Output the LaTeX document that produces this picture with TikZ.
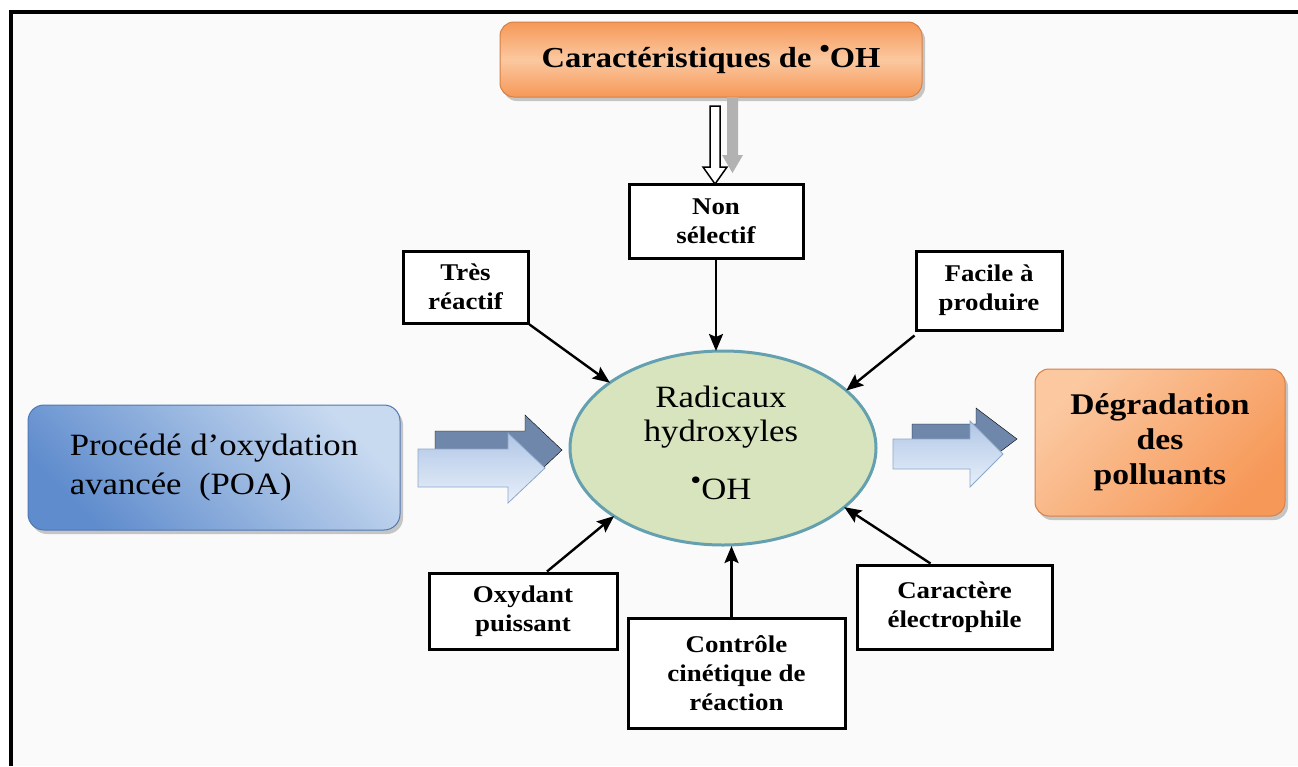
\documentclass[tikz,border=0pt]{standalone}
\usepackage{graphicx}
\usepackage{fontspec}
\setmainfont{Liberation Serif}[FakeStretch=1.12]
\usetikzlibrary{arrows.meta,shadows,calc,shapes.geometric}
\newcommand{\radbul}{\raisebox{0.32em}{\scalebox{0.9}{\textbullet}}}
\definecolor{bgc}{RGB}{250,250,250}
\definecolor{orA}{RGB}{246,152,88}
\definecolor{orB}{RGB}{251,200,160}
\definecolor{orE}{RGB}{214,128,70}
\definecolor{blA}{RGB}{95,140,205}
\definecolor{blB}{RGB}{200,218,240}
\definecolor{blE}{RGB}{80,120,180}
\definecolor{elF}{RGB}{215,228,189}
\definecolor{elE}{RGB}{100,160,175}
\definecolor{arD}{RGB}{111,135,170}
\definecolor{arL}{RGB}{176,198,230}
\definecolor{arL2}{RGB}{232,240,250}
\definecolor{arE}{RGB}{140,168,200}
\begin{document}
\begin{tikzpicture}[x=1pt,y=-1pt,
  box/.style={draw=black, line width=3pt, fill=white, align=center, inner sep=0pt,
    font=\fontsize{24}{29}\selectfont\bfseries},
  conn/.style={line width=2.4pt, -{Stealth[length=17pt,width=14pt,inset=3pt]}},
  softshadow/.style={drop shadow={shadow xshift=3pt, shadow yshift=-4pt, opacity=0.3, fill=black!70}},
  orbox/.style={rounded corners=14pt, draw=orE, line width=1pt, softshadow, align=center, inner sep=0pt},
  blbox/.style={rounded corners=16pt, draw=blE, line width=1pt, softshadow, inner sep=0pt},
  darkarrow/.style={fill=arD},
  lightarrow/.style={draw=arE, line width=0.8pt, top color=arL, bottom color=arL2},
]
\useasboundingbox (0,0) rectangle (1298,766);
\fill[white] (0,0) rectangle (1298,766);
\fill[bgc] (11,12) rectangle (1298,766);
\draw[line width=3.5pt] (11,766) -- (11,12) -- (1298,12);

% top box
\node[orbox, top color=orA, bottom color=orA, middle color=orB, minimum width=422pt, minimum height=75pt,
  font=\fontsize{29}{34}\selectfont\bfseries] (car) at (711,59.5) {Caractéristiques de \radbul OH};

% block arrows under top box
\draw[fill=gray!60, draw=none] (727,97) -- (738,97) -- (738,155) -- (743,155) -- (732.5,173) -- (722,155) -- (727,155) -- cycle;
\draw[fill=white, draw=black, line width=1.5pt] (710,106) -- (720,106) -- (720,167) -- (727,167) -- (715,184) -- (703,167) -- (710,167) -- cycle;

% small boxes
\node[box, minimum width=174pt, minimum height=74pt] (non) at (716,221) {Non\\sélectif};
\node[box, minimum width=125pt, minimum height=72pt] (tres) at (465.5,287) {Très\\réactif};
\node[box, minimum width=146pt, minimum height=79pt] (fac) at (989,290.5) {Facile à\\produire};
\node[box, minimum width=188pt, minimum height=76pt] (oxy) at (523,611) {Oxydant\\puissant};
\node[box, minimum width=195pt, minimum height=84pt] (ele) at (954.5,607) {Caractère\\électrophile};
\node[box, minimum width=217pt, minimum height=110pt] (ctl) at (736.5,673) {Contrôle\\cinétique de\\réaction};

% central ellipse
\node[ellipse, fill=elF, draw=elE, line width=3pt, inner sep=0pt, outer sep=0pt,
  minimum width=306pt, minimum height=194pt] (rad) at (723,448) {};
\node[align=center, font=\fontsize{31}{34}\selectfont] (radt) at (721,443) {Radicaux\\hydroxyles\\[24pt]\radbul OH};

% POA box
\node[blbox, shading=axis, top color=blA, bottom color=blB, shading angle=135, minimum width=372pt, minimum height=125pt,
  align=left, font=\fontsize{31}{39}\selectfont] (poa) at (214,467.5) {Procédé d’oxydation\\avancée \ (POA)};

% Degradation box
\node[orbox, shading=axis, top color=orA, bottom color=orB, shading angle=225, minimum width=250pt, minimum height=147pt,
  font=\fontsize{30}{35}\selectfont\bfseries] (deg) at (1160,442.5) {Dégradation\\des\\polluants};

% left double block arrow
\draw[darkarrow] (435,431) -- (525,431) -- (525,415) -- (562,450) -- (525,485) -- (525,469) -- (435,469) -- cycle;
\draw[lightarrow] (418,449) -- (508,449) -- (508,433) -- (545,468) -- (508,503) -- (508,487) -- (418,487) -- cycle;

% right double block arrow
\draw[darkarrow] (912,424) -- (976,424) -- (976,408) -- (1017,439) -- (976,470) -- (976,452) -- (912,452) -- cycle;
\draw[lightarrow] (893,439) -- (970,439) -- (970,421) -- (1003,454) -- (970,487) -- (970,469) -- (893,469) -- cycle;

% connectors
\draw[conn] (non.south) -- (non.south |- rad.north);
\draw[conn] (tres.south east) -- (rad.150);
\draw[conn] ([yshift=-4pt]fac.south west) -- (rad.25);
\draw[conn] ([xshift=24pt]oxy.north) -- (rad.212);
\draw[conn] ([xshift=-24pt]ele.north) -- (rad.-26);
\draw[conn] ([xshift=-5pt]ctl.north) -- ([xshift=-5pt,yshift=-1pt]ctl.north |- rad.south);
\end{tikzpicture}
\end{document}
